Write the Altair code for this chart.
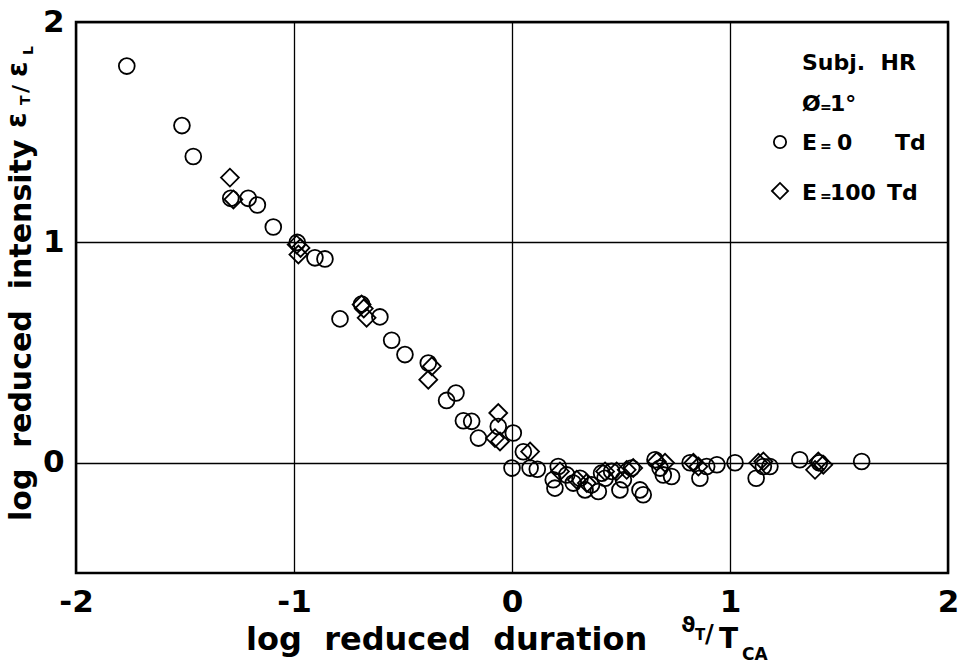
import altair as alt
import pandas as pd

# E = 0 Td (circles)
circ_x = [-1.767, -1.514, -1.462, -1.29, -1.21, -1.168, -1.095, -0.985, -0.904, -0.858,
          -0.69, -0.789, -0.606, -0.552, -0.491, -0.384, -0.30, -0.257, -0.223, -0.185,
          -0.154, -0.063, 0.006, 0.0, 0.052, 0.083, 0.116,
          0.212, 0.189, 0.197, 0.251, 0.281, 0.312, 0.335, 0.365, 0.396, 0.411, 0.427,
          0.457, 0.495, 0.511, 0.549, 0.587, 0.602, 0.656, 0.679, 0.694, 0.732, 0.817,
          0.862, 0.893, 0.94, 1.023, 1.12, 1.153, 1.183, 1.32, 1.41, 1.604]
circ_y = [1.80, 1.53, 1.39, 1.20, 1.20, 1.17, 1.07, 1.00, 0.93, 0.925,
          0.72, 0.653, 0.662, 0.556, 0.491, 0.453, 0.283, 0.317, 0.191, 0.188,
          0.112, 0.165, 0.135, -0.024, 0.05, -0.024, -0.029,
          -0.017, -0.077, -0.115, -0.055, -0.092, -0.07, -0.123, -0.10, -0.13, -0.047, -0.07,
          -0.039, -0.123, -0.077, -0.024, -0.123, -0.145, 0.014, -0.024, -0.055, -0.062, 0.0,
          -0.07, -0.017, -0.009, 0.0, -0.07, -0.017, -0.017, 0.014, 0.0, 0.006]

# E = 100 Td (diamonds)
diam_x = [-1.294, -1.278, -0.988, -0.98, -0.97, -0.69, -0.667, -0.68, -0.368, -0.384,
          -0.063, -0.078, -0.055, 0.083, 0.22, 0.297, 0.343, 0.427, 0.48, 0.526,
          0.556, 0.664, 0.702, 0.832, 0.855, 1.13, 1.153, 1.405, 1.428, 1.39]
diam_y = [1.294, 1.195, 0.99, 0.945, 0.975, 0.718, 0.658, 0.70, 0.438, 0.377,
          0.226, 0.112, 0.097, 0.051, -0.039, -0.077, -0.092, -0.039, -0.039, -0.032,
          -0.024, 0.006, 0.0, 0.0, -0.017, 0.0, 0.006, 0.006, -0.009, -0.032]

x_ticks = [-2, -1, 0, 1, 2]
y_ticks = [0, 1, 2]

FONT = "DejaVu Sans"
W, H = 872, 551
SP = "\u00a0\u00a0"  # wide word spacing

circ = pd.DataFrame({"x": circ_x, "y": circ_y})
diam = pd.DataFrame({"x": diam_x, "y": diam_y})

xs = alt.Scale(domain=[-2, 2], nice=False, zero=False)
ys = alt.Scale(domain=[-0.5, 2], nice=False, zero=False)

x_axis = alt.Axis(values=x_ticks, grid=True, gridColor="black", gridWidth=1.3, gridOpacity=1,
                  domain=False, ticks=False, labelFont=FONT, labelFontWeight="bold",
                  labelFontSize=31, labelColor="black", labelPadding=14, labelFlush=False,
                  labelExpr="'' + datum.value", title=None)
y_axis = alt.Axis(values=y_ticks, grid=True, gridColor="black", gridWidth=1.3, gridOpacity=1,
                  domain=False, ticks=False, labelFont=FONT, labelFontWeight="bold",
                  labelFontSize=31, labelColor="black", labelPadding=12,
                  labelExpr="'' + datum.value", title=None)

base_c = alt.Chart(circ).mark_point(shape="circle", filled=False, size=250, strokeWidth=1.8,
                                    color="black", opacity=1).encode(
    x=alt.X("x:Q", scale=xs, axis=x_axis),
    y=alt.Y("y:Q", scale=ys, axis=y_axis),
)
base_d = alt.Chart(diam).mark_point(shape="diamond", filled=False, size=320, strokeWidth=1.8,
                                    color="black", opacity=1).encode(
    x=alt.X("x:Q", scale=xs),
    y=alt.Y("y:Q", scale=ys),
)


def txt(t, px, py, size, angle=0, weight="bold", align="left"):
    return alt.Chart(pd.DataFrame({"t": [t]})).mark_text(
        font=FONT, fontWeight=weight, fontSize=size, color="black", align=align,
        baseline="alphabetic", angle=angle,
    ).encode(x=alt.value(px), y=alt.value(py), text="t:N")


def sym(shape, px, py, size):
    return alt.Chart(pd.DataFrame({"t": [0]})).mark_point(
        shape=shape, filled=False, size=size, strokeWidth=1.8, color="black", opacity=1
    ).encode(x=alt.value(px), y=alt.value(py))


ox, oy = 76, 22  # plot origin on page
annots = [
    # x-axis title
    txt("log" + SP + "reduced" + SP + "duration", 246 - ox, 650 - oy, 32),
    txt("ϑ", 681 - ox, 632 - oy, 22),
    txt("T", 695 - ox, 640 - oy, 15),
    txt("/", 705 - ox, 642 - oy, 24),
    txt("T", 719 - ox, 648 - oy, 28),
    txt("CA", 742 - ox, 660 - oy, 17),
    # y-axis title (rotated)
    txt("log" + SP + "reduced" + SP + "intensity", 31 - ox, 521 - oy, 30, angle=270),
    txt("ε", 26 - ox, 128 - oy, 28, angle=270),
    txt("T", 30 - ox, 105 - oy, 14, angle=270),
    txt("/", 28 - ox, 93 - oy, 22, angle=270),
    txt("ε", 27 - ox, 77 - oy, 28, angle=270),
    txt("L", 33 - ox, 55 - oy, 14, angle=270),
    # legend block
    txt("Subj." + SP + "HR", 802 - ox, 70 - oy, 22),
    txt("Ø", 802 - ox, 111 - oy, 22),
    txt("=", 820 - ox, 112 - oy, 14),
    txt("1°", 830 - ox, 111 - oy, 22),
    sym("circle", 780 - ox, 142 - oy, 150),
    txt("E", 802 - ox, 150 - oy, 22),
    txt("=", 820 - ox, 151 - oy, 14),
    txt("0", 837 - ox, 150 - oy, 22),
    txt("Td", 895 - ox, 150 - oy, 22),
    sym("diamond", 780 - ox, 191 - oy, 260),
    txt("E", 802 - ox, 200 - oy, 22),
    txt("=", 820 - ox, 201 - oy, 14),
    txt("100", 830 - ox, 200 - oy, 22),
    txt("Td", 887 - ox, 200 - oy, 22),
]

chart = alt.layer(base_c, base_d, *annots).properties(
    width=W, height=H,
    autosize=alt.AutoSizeParams(type="none"),
    padding={"left": 76, "top": 22, "right": 16, "bottom": 97},
    background="white",
).configure_view(stroke="black", strokeWidth=2.5)

chart.save("out.html", embed_options={"renderer": "svg", "actions": False})
